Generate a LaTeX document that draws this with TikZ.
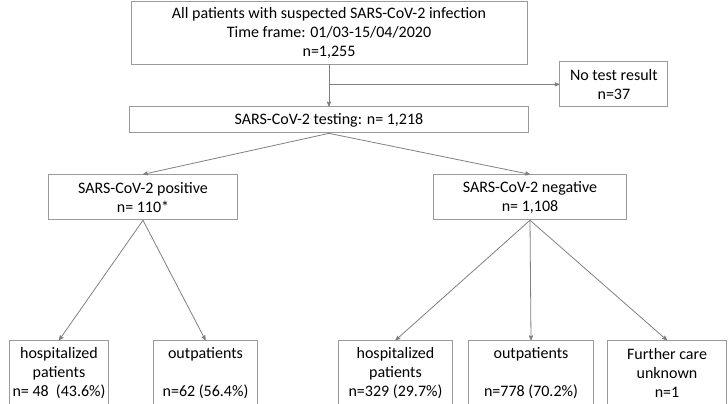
\documentclass[tikz,border=0pt]{standalone}
\usepackage{fontspec}
\setmainfont{Carlito}
\usetikzlibrary{positioning}
\usetikzlibrary{arrows}

\begin{document}
\begin{tikzpicture}[->,>=stealth',shorten >=0pt,
	main node/.style={rectangle,draw=boxgray,line width=0.9pt,inner sep=0pt,align=center,
		font=\fontsize{16}{19}\selectfont}]
	
	\definecolor{boxgray}{RGB}{155,155,155}
	\definecolor{linegray}{RGB}{128,128,128}
	
	\useasboundingbox (0,0) rectangle (728pt,-404pt);
	
	\node[main node, minimum width=396pt, minimum height=63pt] (all) at (329pt,-32.5pt)
		{All patients with suspected SARS-CoV-2 infection\\Time frame: 01/03-15/04/2020\\n=1,255};
	\node[main node, minimum width=108pt, minimum height=45pt] (nores) [below right=-3pt and 32pt of all.south east] {No test result\\n=37};
	\node[main node, minimum width=399pt, minimum height=26pt] (test) [below=42pt of all.south] {SARS-CoV-2 testing: n= 1,218};
	\node[main node, minimum width=189pt, minimum height=45pt] (pos) [below=41pt of test.south, xshift=-186pt] {SARS-CoV-2 positive\\n= 110*};
	\node[main node, minimum width=193pt, minimum height=45pt] (neg) [below=41pt of test.south, xshift=201pt] {SARS-CoV-2 negative\\n= 1,108};
	\node[main node, minimum width=99pt, minimum height=65pt] (hp) [below=120pt of pos.south, xshift=-84pt] {hospitalized\\patients\\n= 48\ \ (43.6\%)};
	\node[main node, minimum width=104pt, minimum height=65pt] (op) [below=120pt of pos.south, xshift=62.5pt] {outpatients\\ \strut\\n=62 (56.4\%)};
	\node[main node, minimum width=114pt, minimum height=65pt] (hn) [below=120pt of neg.south, xshift=-134.5pt] {hospitalized\\patients\\n=329 (29.7\%)};
	\node[main node, minimum width=125pt, minimum height=65pt] (on) [below=120pt of neg.south, xshift=1pt] {outpatients\\ \strut\\n=778 (70.2\%)};
	\node[main node, minimum width=119pt, minimum height=65pt] (fu) [below=120pt of neg.south, xshift=137pt] {Further care\\unknown\\n=1};
	
	\path[every edge/.style={draw=linegray, line width=0.8pt}]
	(all.south) edge (test.north)
	(nores.west -| all.south) edge (nores.west)
	(test.south) edge (pos.north)
	(test.south) edge (neg.north)
	(pos.south) edge (hp.north)
	(pos.south) edge (op.north)
	(neg.south) edge (hn.north)
	(neg.south) edge (on.north)
	(neg.south) edge (fu.north);
\end{tikzpicture}
\end{document}
